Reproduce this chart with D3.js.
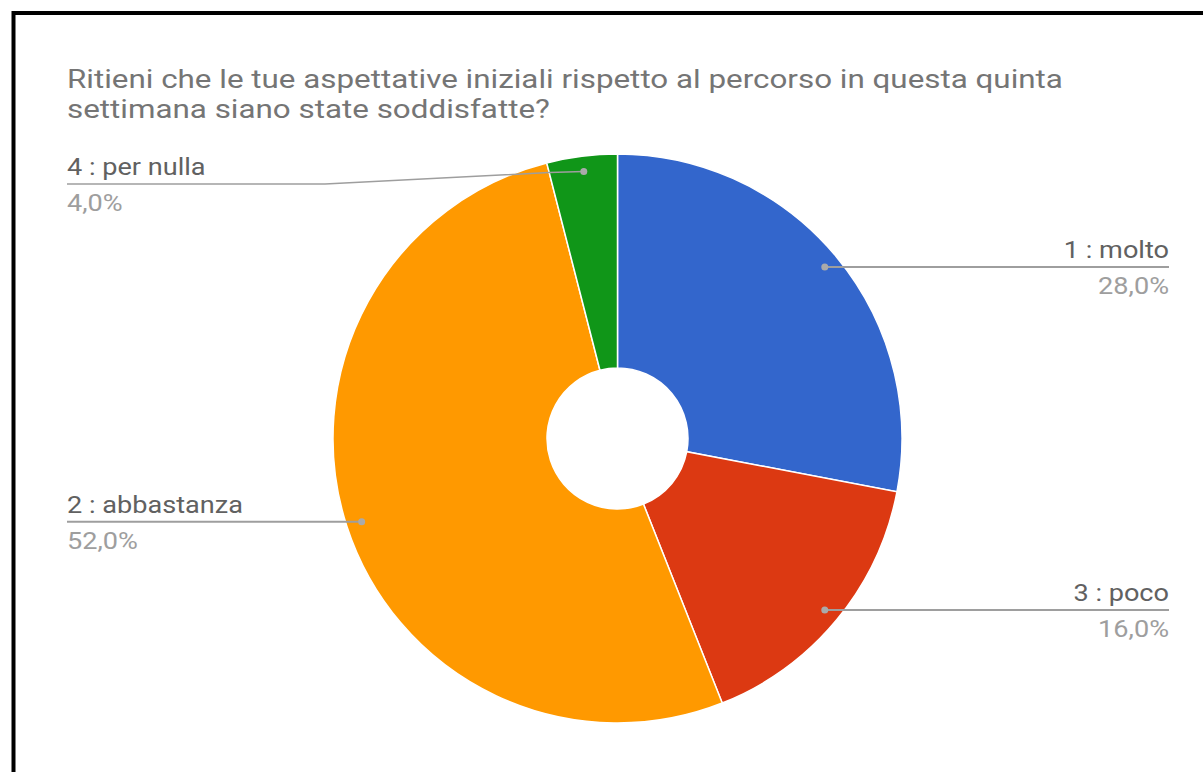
<!DOCTYPE html>
<html lang="it">
<head>
    <meta charset="UTF-8">
    <title>Aspettative quinta settimana</title>
    <script src="https://d3js.org/d3.v7.min.js"></script>
    <style>
        body {
            margin: 0;
            padding: 0;
            background: #fff;
        }
        svg {
            display: block;
            font-family: Roboto, "Noto Sans", sans-serif;
        }
        .title {
            fill: #757575;
            font-size: 25.5px;
        }
        .name {
            fill: #616161;
            font-size: 24px;
        }
        .pct {
            fill: #9e9e9e;
            font-size: 24px;
        }
        .leader {
            fill: none;
            stroke: #9e9e9e;
            stroke-width: 2;
        }
    </style>
</head>
<body>
    <script>
        // dati (ordine delle fette come nel grafico, in senso orario dall'alto)
        var categories = ['1 : molto', '3 : poco', '2 : abbastanza', '4 : per nulla'];
        var values = [28, 16, 52, 4];
        var colors = ['#3366cc', '#dc3912', '#ff9900', '#109618'];
        var titleLines = [
            'Ritieni che le tue aspettative iniziali rispetto al percorso in questa quinta',
            'settimana siano state soddisfatte?'
        ];

        var width = 1203;
        var height = 772;
        var cx = 617.5, cy = 438.5;
        var outerR = 284.5, innerR = 70.5;
        var stretch = 1.13; // il testo dell'originale è un po' più largo

        // posizione delle etichette: lato e, se serve, altezza della linea
        var labelSide = { '1 : molto': 'right', '3 : poco': 'right', '2 : abbastanza': 'left', '4 : per nulla': 'left' };
        var labelLineY = { '4 : per nulla': 184 };
        var leftX = 67, rightX = 1169;

        var it = d3.formatLocale({ decimal: ',', thousands: '.', grouping: [3], currency: ['', '€'] });
        var fmt = it.format('.1f');
        var total = d3.sum(values);

        var svg = d3.select('body').append('svg')
            .attr('width', width)
            .attr('height', height);

        // cornice nera (solo in alto e a sinistra)
        svg.append('path')
            .attr('d', 'M13.5,772 V13 H1203')
            .attr('fill', 'none')
            .attr('stroke', '#000')
            .attr('stroke-width', 4);

        svg.append('text')
            .attr('class', 'title')
            .attr('transform', 'translate(' + leftX + ',88) scale(1.23,1)')
            .selectAll('tspan')
            .data(titleLines)
            .enter().append('tspan')
            .attr('x', 0)
            .attr('dy', function(d, i) { return i === 0 ? 0 : 30; })
            .text(function(d) { return d; });

        var pie = d3.pie().sort(null).value(function(d) { return d; });
        var arcs = pie(values);

        var arc = d3.arc().innerRadius(innerR).outerRadius(outerR);
        var dotArc = d3.arc().innerRadius(269).outerRadius(269);

        var g = svg.append('g').attr('transform', 'translate(' + cx + ',' + cy + ')');

        g.selectAll('.slice')
            .data(arcs)
            .enter().append('path')
            .attr('class', 'slice')
            .attr('d', arc)
            .attr('fill', function(d, i) { return colors[i]; })
            .attr('stroke', '#fff')
            .attr('stroke-width', 1.5);

        // etichette con linee guida
        arcs.forEach(function(d, i) {
            var name = categories[i];
            var c = dotArc.centroid(d);
            var dx = cx + c[0], dy = cy + c[1];
            var side = labelSide[name];
            var ly = labelLineY[name] != null ? labelLineY[name] : dy;
            var pts;
            if (side === 'right') {
                pts = [[dx, dy], [dx + (dy === ly ? 0 : 35), ly], [rightX, ly]];
            } else {
                pts = ly === dy ? [[dx, dy], [leftX, ly]]
                    : [[dx, dy], [dx - 35, dy + 1], [325, ly], [leftX, ly]];
            }
            svg.append('path')
                .attr('class', 'leader')
                .attr('stroke', ly === dy ? null : '#757575')
                .style('stroke-width', ly === dy ? null : 1.5)
                .attr('d', d3.line()(pts));
            svg.append('circle')
                .attr('cx', dx)
                .attr('cy', dy)
                .attr('r', 3.5)
                .attr('fill', '#aaa');

            var tx = side === 'right' ? rightX : leftX;
            var anchor = side === 'right' ? 'end' : 'start';
            svg.append('text')
                .attr('class', 'name')
                .attr('transform', 'translate(' + tx + ',' + (ly - 9) + ') scale(' + stretch + ',1)')
                .attr('text-anchor', anchor)
                .text(name);
            svg.append('text')
                .attr('class', 'pct')
                .attr('transform', 'translate(' + tx + ',' + (ly + 27) + ') scale(' + stretch + ',1)')
                .attr('text-anchor', anchor)
                .text(fmt(values[i] / total * 100) + '%');
        });
    </script>
</body>
</html>
